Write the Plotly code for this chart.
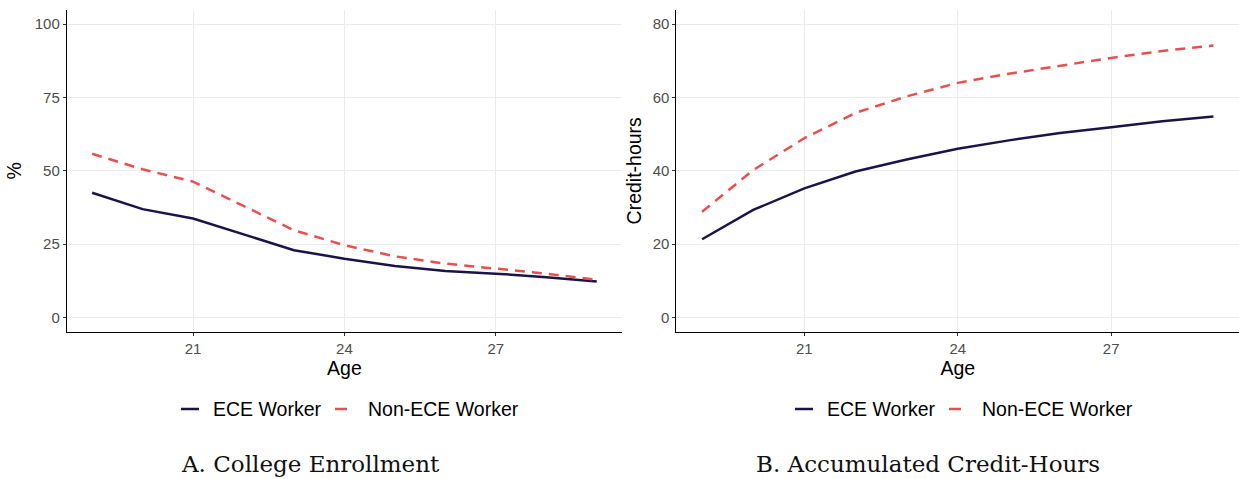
import plotly.graph_objects as go

# Ages observed in both panels
ages = [19, 20, 21, 22, 23, 24, 25, 26, 27, 28, 29]

# Panel A: college enrollment (%)
enroll_ece = [42.5, 36.9, 33.7, 28.2, 22.9, 20.0, 17.5, 15.8, 14.9, 13.7, 12.2]
enroll_non = [55.8, 50.5, 46.3, 38.0, 29.7, 24.6, 20.8, 18.3, 16.6, 14.9, 12.8]

# Panel B: accumulated credit-hours
credits_ece = [21.3, 29.3, 35.2, 39.8, 43.1, 46.0, 48.3, 50.3, 51.9, 53.5, 54.8]
credits_non = [28.8, 40.2, 48.9, 55.8, 60.3, 64.0, 66.5, 68.7, 70.8, 72.7, 74.2]

series_names = ["ECE Worker", "Non-ECE Worker"]
series_colors = ["#1B1448", "#E8504F"]
series_dash = ["solid", "10px,7px"]
legend_key_dash = ["solid", "12px,8px"]

x_ticks = [21, 24, 27]
y_ticks_a = [0, 25, 50, 75, 100]
y_ticks_b = [0, 20, 40, 60, 80]

panel_titles = ["A. College Enrollment", "B. Accumulated Credit-Hours"]

W, H = 1239, 479
LINE_W = 2.5
SANS = "Liberation Sans, Arial, sans-serif"

fig = go.Figure()

panels = [
    ("x", "y", [enroll_ece, enroll_non]),
    ("x2", "y2", [credits_ece, credits_non]),
]
for xa, ya, ys in panels:
    for name, col, dash, vals in zip(series_names, series_colors, series_dash, ys):
        fig.add_trace(go.Scatter(
            x=ages, y=vals, mode="lines", name=name, showlegend=False,
            line=dict(color=col, width=LINE_W, dash=dash),
            xaxis=xa, yaxis=ya,
        ))

tick_font = dict(family=SANS, size=15, color="#4D4D4D")
title_font = dict(family=SANS, size=19.5, color="#000000")

common_x = dict(
    range=[18.5, 29.5], tickvals=x_ticks, showgrid=True, gridcolor="#EBEBEB",
    gridwidth=1, showline=True, linecolor="#000000", linewidth=1.3,
    ticks="outside", ticklen=3, tickcolor="#333333", tickwidth=1,
    tickfont=tick_font, zeroline=False,
    title=dict(text="Age", font=title_font, standoff=0),
)
common_y = dict(
    showgrid=True, gridcolor="#EBEBEB", gridwidth=1, showline=True,
    linecolor="#000000", linewidth=1.3, ticks="outside", ticklen=3,
    tickcolor="#333333", tickwidth=1, tickfont=tick_font, zeroline=False,
)

dom_y = [0.307, 0.980]
fig.update_layout(
    width=W, height=H,
    margin=dict(l=0, r=0, t=0, b=0),
    paper_bgcolor="white", plot_bgcolor="white",
    showlegend=False,
    xaxis=dict(domain=[0.054, 0.502], anchor="y", **common_x),
    yaxis=dict(domain=dom_y, anchor="x", range=[-5, 105], tickvals=y_ticks_a,
               title=dict(text="%", font=title_font, standoff=7), **common_y),
    xaxis2=dict(domain=[0.546, 1.0], anchor="y2", **common_x),
    yaxis2=dict(domain=dom_y, anchor="x2", range=[-4, 84], tickvals=y_ticks_b,
                title=dict(text="Credit-hours", font=title_font, standoff=5), **common_y),
)

# Legend rows below each panel: short key line followed by its label
legend_y = 1 - 409 / H
legend_rows = [
    [(181, 211), (335, 366)],
    [(795, 825), (949, 980)],
]
shapes = []
annotations = []
for row in legend_rows:
    for (kx, tx), name, col, dash in zip(row, series_names, series_colors, legend_key_dash):
        shapes.append(dict(
            type="line", xref="paper", yref="paper",
            x0=kx / W, x1=(kx + 18) / W, y0=legend_y, y1=legend_y,
            line=dict(color=col, width=LINE_W, dash=dash),
        ))
        annotations.append(dict(
            text=name, xref="paper", yref="paper", x=tx / W, y=legend_y,
            xanchor="left", yanchor="middle", showarrow=False,
            font=dict(family=SANS, size=19.5, color="#000000"),
        ))

# Panel captions
for text, left in zip(panel_titles, [179, 754]):
    annotations.append(dict(
        text=text, xref="paper", yref="paper", x=left / W, y=1 - 464 / H,
        xanchor="left", yanchor="middle", showarrow=False,
        font=dict(family="DejaVu Serif, serif", size=23, color="#111111"),
    ))

fig.update_layout(shapes=shapes, annotations=annotations)

fig.write_html("out.html")
